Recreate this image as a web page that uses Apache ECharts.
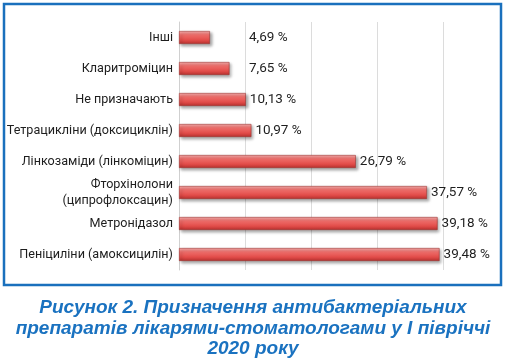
<!DOCTYPE html>
<html><head><meta charset="utf-8">
<script src="https://cdn.jsdelivr.net/npm/echarts@6/dist/echarts.min.js"></script>
<style>html,body{margin:0;padding:0;background:#fff}#c{width:506px;height:362px}</style>
</head><body><div id="c"></div>
<script>
var categories = ['Інші','Кларитроміцин','Не призначають','Тетрацикліни (доксициклін)','Лінкозаміди (лінкоміцин)','Фторхінолони\n(ципрофлоксацин)','Метронідазол','Пеніциліни (амоксицилін)'];
var values = [4.69, 7.65, 10.13, 10.97, 26.79, 37.57, 39.18, 39.48];
var valueLabels = ['4,69 %','7,65 %','10,13 %','10,97 %','26,79 %','37,57 %','39,18 %','39,48 %'];
var labelMinValue = 10; // labels of short bars line up at this value
var captionLines = ['Рисунок 2. Призначення антибактеріальних','препаратів лікарями-стоматологами у І півріччі','2020 року'];

var FONT = 'Roboto,"Liberation Sans",sans-serif';
var chart = echarts.init(document.getElementById('c'), null, {renderer:'canvas'});
var barGrad = new echarts.graphic.LinearGradient(0,0,0,1,[
  {offset:0,color:'#f7b0ae'},{offset:0.3,color:'#ef6e6b'},{offset:0.7,color:'#e24c49'},{offset:1,color:'#b5302e'}]);
function buildData(offsets){
  return values.map(function(v,i){
    return {value:v, label:{offset:[offsets?offsets[i]:0,0]}};
  });
}
var option = {
  animation:false,
  grid:{left:179,right:63,top:22,bottom:92,containLabel:false,outerBoundsMode:'none'},
  xAxis:{type:'value',min:0,max:40,interval:10,
    axisLabel:{show:false},axisLine:{show:false},axisTick:{show:false},
    splitLine:{lineStyle:{color:'#dcdcdc',width:1}}},
  yAxis:{type:'category',data:categories,inverse:true,
    axisLine:{show:true,lineStyle:{color:'#d0d0d0'}},axisTick:{show:false},
    axisLabel:{fontFamily:FONT,fontSize:12.6,color:'#1e1e1e',margin:6,lineHeight:16}},
  series:[{type:'bar',data:buildData(null),barWidth:13,
    itemStyle:{color:barGrad,borderColor:'#9e3533',borderWidth:0.6,
      shadowColor:'rgba(0,0,0,0.35)',shadowBlur:3,shadowOffsetX:2,shadowOffsetY:2},
    label:{show:true,position:'right',distance:4,fontFamily:FONT,fontSize:13.5,color:'#1e1e1e',
      formatter:function(p){return valueLabels[p.dataIndex];}}}],
  graphic:[
    {type:'rect',shape:{x:4,y:4,width:497,height:281},style:{fill:'none',stroke:'#1a70bd',lineWidth:2.5},z:100},
    {type:'text',x:253,y:298,style:{text:captionLines.join('\n'),
      font:'italic bold 19px "Liberation Sans",Arial,sans-serif',fill:'#1a72c0',align:'center',verticalAlign:'top',lineHeight:20.5}}
  ]
};
chart.setOption(option);
var minPx = chart.convertToPixel({xAxisIndex:0}, labelMinValue);
var offs = values.map(function(v){
  var px = chart.convertToPixel({xAxisIndex:0}, v);
  return px < minPx ? (minPx - px) : 0;
});
chart.setOption({series:[{data:buildData(offs)}]});
</script></body></html>
